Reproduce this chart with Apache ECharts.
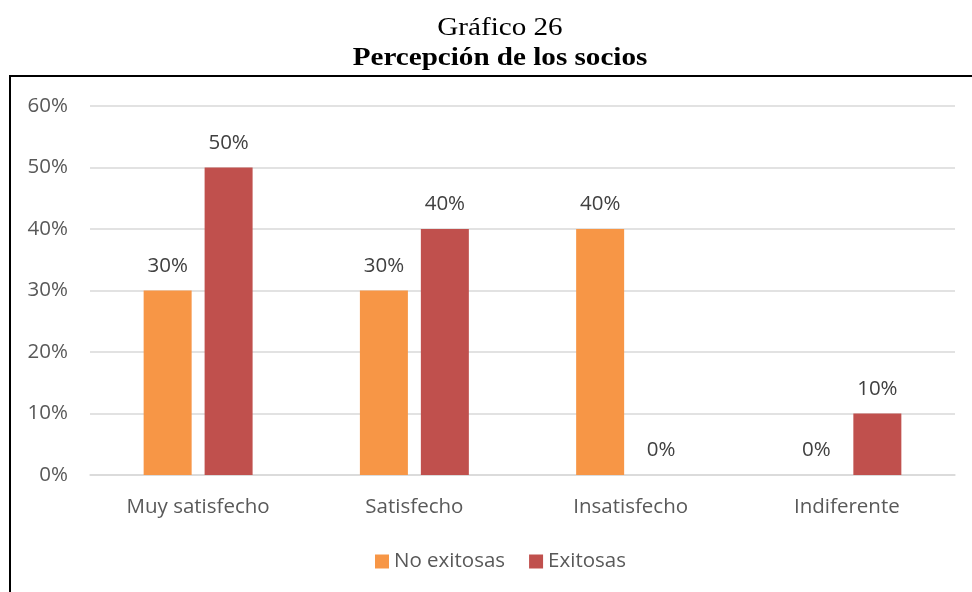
<!DOCTYPE html>
<html>
<head>
<meta charset="utf-8">
<style>
  html, body { margin: 0; padding: 0; background: #fff; }
  #chart { width: 972px; height: 592px; }
</style>
<script src="https://cdn.jsdelivr.net/npm/echarts@6/dist/echarts.min.js"></script>
</head>
<body>
<div id="chart"></div>
<script>
// Survey categories and shares (percent) per group
const categories = ['Muy satisfecho', 'Satisfecho', 'Insatisfecho', 'Indiferente'];
const noExitosas = [30, 30, 40, 0];
const exitosas = [50, 40, 0, 10];
const seriesNames = ['No exitosas', 'Exitosas'];
const captionLines = ['Gráfico 26', 'Percepción de los socios'];

const chart = echarts.init(document.getElementById('chart'));
const textColor = '#595959';
const uiFont = '"Open Sans", "Noto Sans", sans-serif';
const serifFont = '"Liberation Serif", "Times New Roman", serif';
const fs = 20.5;

const barLabel = {
  show: true,
  position: 'top',
  distance: 14,
  color: '#404040',
  fontSize: fs,
  fontFamily: uiFont,
  formatter: p => p.value + '%'
};

// Caption lines, slightly widened like the document's figure caption
function captionText(text, y, bold) {
  return {
    type: 'text',
    x: 500,
    y: y,
    scaleX: 1.12,
    silent: true,
    style: {
      text: text,
      x: 0,
      y: 0,
      textAlign: 'center',
      textVerticalAlign: 'middle',
      fill: '#000',
      font: (bold ? 'bold ' : '') + '26px ' + serifFont
    }
  };
}

chart.setOption({
  animation: false,
  graphic: [
    captionText(captionLines[0], 28.5, false),
    captionText(captionLines[1], 58.5, true),
    {
      type: 'rect',
      shape: { x: 10, y: 76, width: 980, height: 540 },
      style: { fill: 'none', stroke: '#000', lineWidth: 2 },
      silent: true
    }
  ],
  legend: {
    data: seriesNames,
    top: 546,
    left: 370,
    itemWidth: 14,
    itemHeight: 14,
    itemGap: 24,
    icon: 'rect',
    textStyle: { color: textColor, fontSize: fs, fontFamily: uiFont }
  },
  grid: { left: 90, right: 17, top: 106, bottom: 117, containLabel: false },
  xAxis: {
    type: 'category',
    data: categories,
    axisLine: { show: true, lineStyle: { color: '#d9d9d9', width: 1.5 } },
    axisTick: { show: false },
    axisLabel: { color: textColor, fontSize: fs, fontFamily: uiFont, margin: 22 }
  },
  yAxis: {
    type: 'value',
    min: 0,
    max: 60,
    interval: 10,
    axisLine: { show: false },
    axisTick: { show: false },
    splitLine: { lineStyle: { color: '#d9d9d9', width: 1.5 } },
    axisLabel: { color: textColor, fontSize: fs, fontFamily: uiFont, margin: 22, formatter: '{value}%' }
  },
  series: [
    {
      name: seriesNames[0],
      type: 'bar',
      data: noExitosas,
      barWidth: 48,
      barGap: '27%',
      itemStyle: { color: '#F79646' },
      label: barLabel
    },
    {
      name: seriesNames[1],
      type: 'bar',
      data: exitosas,
      barWidth: 48,
      barGap: '27%',
      itemStyle: { color: '#C0504D' },
      label: barLabel
    }
  ]
});
</script>
</body>
</html>
